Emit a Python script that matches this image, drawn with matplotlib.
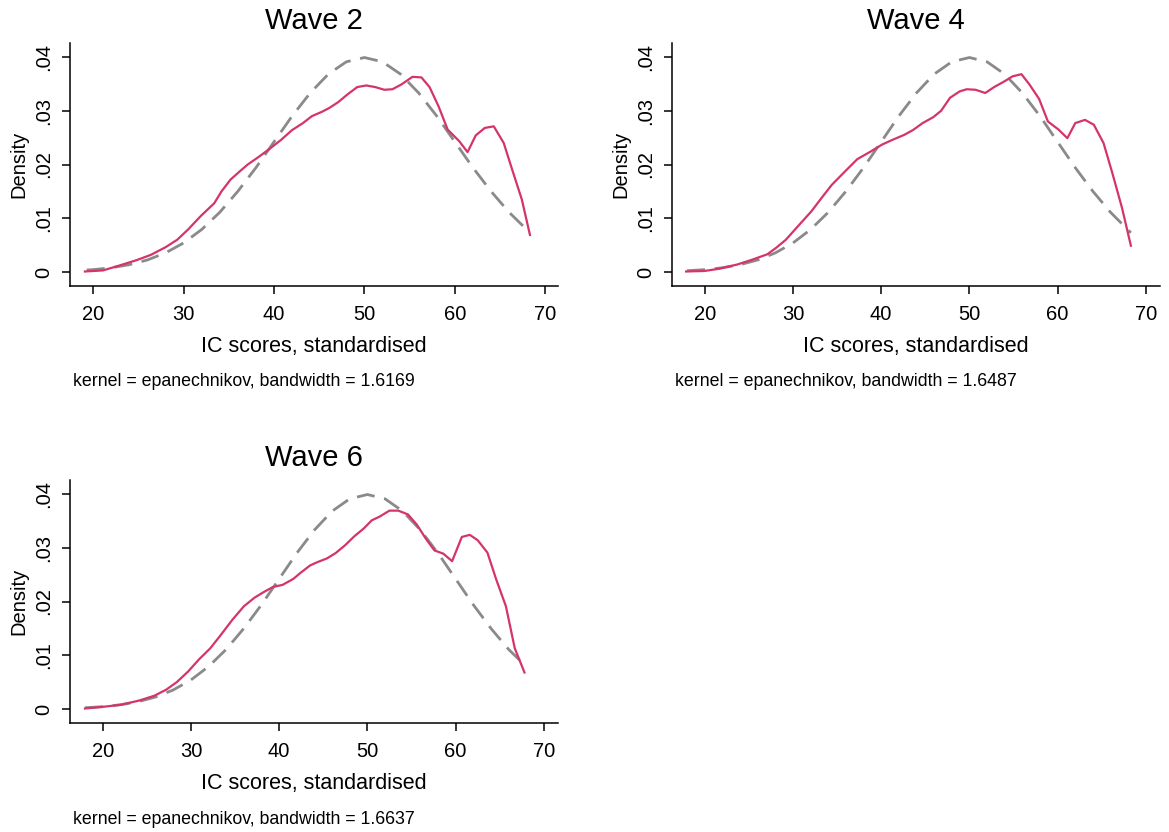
import matplotlib
matplotlib.use("Agg")
import matplotlib.pyplot as plt

plt.rcParams['font.family'] = ['Liberation Sans', 'DejaVu Sans']

# kernel density curves
w2_x = [19.1, 21.1, 22.7, 24.8, 26.4, 28.0, 29.3, 30.5, 31.9, 33.4, 34.2, 35.2, 36.2, 37.1,
        38.3, 39.5, 40.8, 42.0, 43.2, 44.2, 45.3, 46.1, 47.1, 48.1, 49.2, 50.2, 51.2, 52.2,
        53.1, 54.1, 55.3, 56.3, 57.2, 58.2, 59.2, 60.5, 61.4, 62.3, 63.3, 64.3, 65.4, 66.4,
        67.4, 68.3]
w2_y = [0.0001, 0.0003, 0.0011, 0.0022, 0.0032, 0.0046, 0.0060, 0.0079, 0.0104, 0.0128,
        0.0150, 0.0172, 0.0187, 0.0200, 0.0214, 0.0229, 0.0246, 0.0264, 0.0277, 0.0290,
        0.0298, 0.0305, 0.0316, 0.0330, 0.0344, 0.0347, 0.0344, 0.0339, 0.0340, 0.0349,
        0.0363, 0.0362, 0.0344, 0.0308, 0.0265, 0.0243, 0.0223, 0.0254, 0.0268, 0.0271,
        0.0240, 0.0187, 0.0135, 0.0069]

w4_x = [17.9, 20.0, 21.6, 23.7, 25.4, 27.1, 28.1, 29.2, 30.4, 32.1, 33.4, 34.4, 35.9, 37.3,
        38.8, 40.1, 41.3, 42.6, 43.6, 44.7, 45.9, 46.8, 47.8, 48.9, 49.7, 50.7, 51.8, 52.8,
        53.9, 54.9, 55.9, 56.8, 57.9, 58.9, 60.1, 61.1, 62.0, 63.1, 64.1, 65.2, 66.2, 67.3,
        68.3]
w4_y = [0.0001, 0.0002, 0.0006, 0.0014, 0.0023, 0.0033, 0.0045, 0.0060, 0.0082, 0.0113,
        0.0141, 0.0162, 0.0187, 0.0210, 0.0224, 0.0237, 0.0246, 0.0255, 0.0264, 0.0277,
        0.0288, 0.0300, 0.0324, 0.0336, 0.0340, 0.0339, 0.0333, 0.0344, 0.0354, 0.0364,
        0.0368, 0.0349, 0.0322, 0.0280, 0.0265, 0.0249, 0.0277, 0.0283, 0.0274, 0.0240,
        0.0184, 0.0119, 0.0049]

w6_x = [18.0, 20.0, 22.1, 24.2, 25.9, 27.2, 28.4, 29.7, 30.9, 32.2, 33.4, 34.7, 36.0, 37.2,
        38.3, 39.3, 40.4, 41.6, 42.4, 43.5, 44.3, 45.4, 46.4, 47.5, 48.5, 49.6, 50.5, 51.4,
        52.5, 53.5, 54.6, 55.6, 56.7, 57.6, 58.6, 59.6, 60.7, 61.6, 62.5, 63.6, 64.6, 65.7,
        66.7, 67.8]
w6_y = [0.0001, 0.0004, 0.0008, 0.0016, 0.0025, 0.0036, 0.0050, 0.0070, 0.0092, 0.0113,
        0.0138, 0.0166, 0.0191, 0.0207, 0.0218, 0.0227, 0.0231, 0.0242, 0.0253, 0.0267,
        0.0273, 0.0280, 0.0290, 0.0305, 0.0321, 0.0336, 0.0351, 0.0358, 0.0369, 0.0369,
        0.0362, 0.0343, 0.0315, 0.0295, 0.0289, 0.0275, 0.0320, 0.0324, 0.0314, 0.0291,
        0.0241, 0.0191, 0.0113, 0.0068]

# normal reference curve (dashed)
norm_x = [20, 22, 24, 26, 28, 30, 32, 34, 36, 38, 40, 42, 44, 46, 48, 50,
          52, 54, 56, 58, 60, 62, 64, 66]
norm_y = [0.00044, 0.00079, 0.00136, 0.00224, 0.00355, 0.0054, 0.0079, 0.0111, 0.0150,
          0.0194, 0.0242, 0.0290, 0.0333, 0.0368, 0.0391, 0.0399, 0.0391, 0.0368, 0.0333,
          0.0290, 0.0242, 0.0194, 0.0150, 0.0111]
# where the dashed curve starts and stops in each panel
w2_norm_ends = [(19.3, 0.00038), (68.3, 0.0073)]
w4_norm_ends = [(18.0, 0.00024), (68.3, 0.0073)]
w6_norm_ends = [(18.0, 0.00024), (68.0, 0.0079)]

titles = ['Wave 2', 'Wave 4', 'Wave 6']
bandwidths = ['1.6169', '1.6487', '1.6637']
xlims = [(17.45, 71.4), (16.3, 71.6), (16.3, 71.6)]

RED = '#d4346a'
GRAY = '#8a8a8a'

fig = plt.figure(figsize=(11.69, 8.32), dpi=100)
W, H = 1169, 832
# axes boxes in pixels: left, top, right, bottom
boxes = [(70, 43, 558, 286), (672, 43, 1160, 286), (70, 480, 558, 723)]

panels = [(w2_x, w2_y, w2_norm_ends), (w4_x, w4_y, w4_norm_ends), (w6_x, w6_y, w6_norm_ends)]

for i, (kx, ky, ends) in enumerate(panels):
    l, t, r, b = boxes[i]
    ax = fig.add_axes([l / W, 1 - b / H, (r - l) / W, (b - t) / H])
    nx = [ends[0][0]] + norm_x + [ends[1][0]]
    ny = [ends[0][1]] + norm_y + [ends[1][1]]
    ax.plot(nx, ny, color=GRAY, lw=2.0, dashes=(6.5, 3.5))
    ax.plot(kx, ky, color=RED, lw=1.6)

    ax.set_xlim(*xlims[i])
    ax.set_ylim(-0.0026, 0.0426)
    ax.set_xticks([20, 30, 40, 50, 60, 70])
    ax.set_yticks([0, 0.01, 0.02, 0.03, 0.04])
    ax.set_yticklabels(['0', '.01', '.02', '.03', '.04'], rotation=90, va='center')
    ax.tick_params(direction='out', length=6, width=1.1, labelsize=14.5)
    ax.tick_params(axis='x', pad=8)
    ax.tick_params(axis='y', pad=6)
    for s in ['top', 'right']:
        ax.spines[s].set_visible(False)
    for s in ['left', 'bottom']:
        ax.spines[s].set_linewidth(1.1)
    ax.set_xlabel('IC scores, standardised', fontsize=15.5, labelpad=8)
    ax.set_ylabel('Density', fontsize=14.5, labelpad=4)
    ax.set_title(titles[i], fontsize=21, pad=10)
    cx = (l + 3) / W
    ax.text(cx, 1 - (b + 96) / H, 'kernel = epanechnikov, bandwidth = ' + bandwidths[i],
            transform=fig.transFigure, fontsize=12.8, va='center', ha='left')

fig.savefig('out.png', dpi=100, facecolor='white')
